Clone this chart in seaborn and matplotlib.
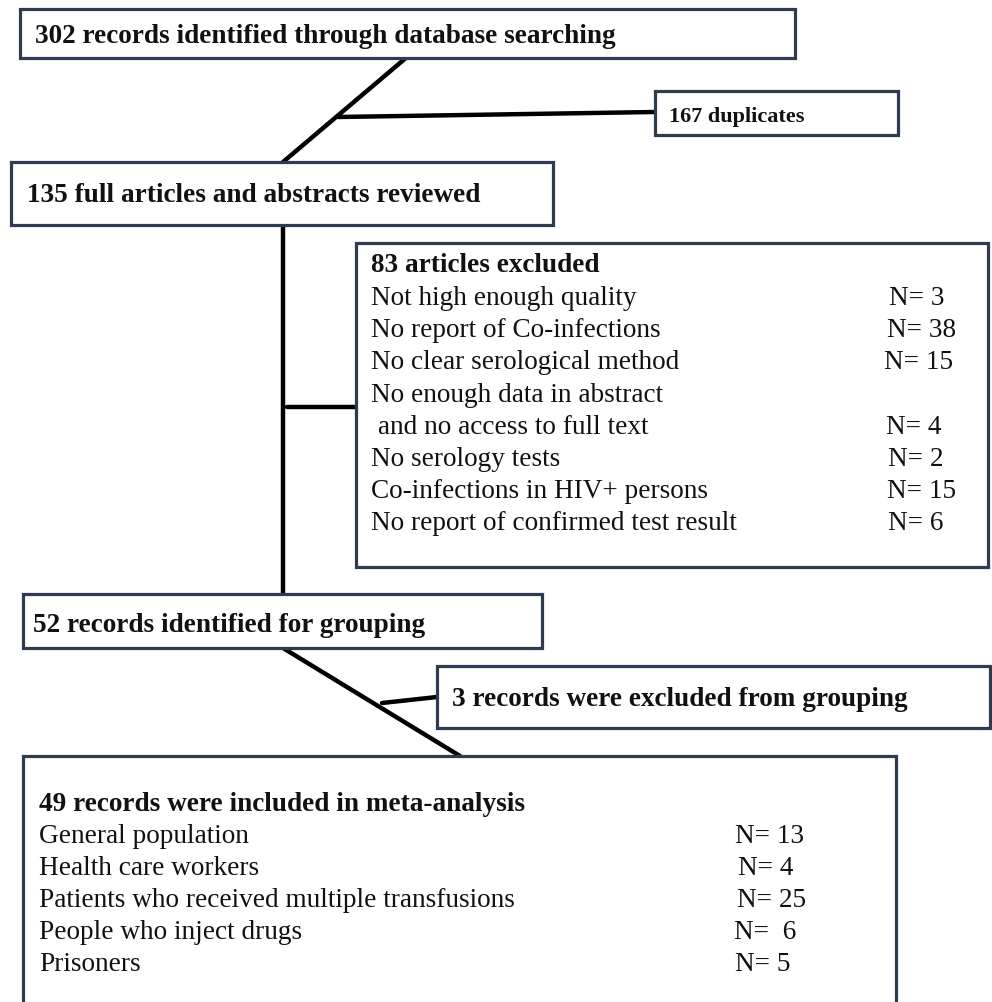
import matplotlib
matplotlib.use("Agg")
import matplotlib.pyplot as plt
from matplotlib.patches import Rectangle
import seaborn as sns
import pandas as pd

# ---- data ----
identified = 302
duplicates = 167
reviewed = 135
excluded_total = 83
exclusion_reasons = [
    "Not high enough quality",
    "No report of Co-infections",
    "No clear serological method",
    "No enough data in abstract",
    " and no access to full text",
    "No serology tests",
    "Co-infections in HIV+ persons",
    "No report of confirmed test result",
]
exclusion_counts = [3, 38, 15, None, 4, 2, 15, 6]
grouping = 52
excluded_grouping = 3
included = 49
groups = [
    "General population",
    "Health care workers",
    "Patients who received multiple transfusions",
    "People who inject drugs",
    "Prisoners",
]
group_counts = [13, 4, 25, 6, 5]

# ---- style ----
sns.set_theme(style="white")
plt.rcParams['font.family'] = ['Liberation Serif', 'DejaVu Serif']
BORDER = "#2f3c50"
TXT = "#111111"
FS = 19.6

fig = plt.figure(figsize=(9.92, 10.02), dpi=100)
ax = fig.add_axes([0, 0, 1, 1])
ax.set_xlim(0, 992)
ax.set_ylim(1002, 0)
ax.axis("off")


def box(x0, y0, x1, y1):
    ax.add_patch(Rectangle((x0, y0), x1 - x0, y1 - y0, facecolor="white",
                           edgecolor=BORDER, lw=2.3, zorder=2, clip_on=True))


def txt(x, y, s, bold=False, fs=FS):
    ax.text(x, y, s, fontsize=fs, fontweight="bold" if bold else "normal",
            color=TXT, va="baseline", ha="left", zorder=3)


def connector(xs, ys):
    sns.lineplot(x=xs, y=ys, sort=False, estimator=None, color="black",
                 lw=3.2, ax=ax, zorder=1, legend=False)


# connectors
connector([407, 283], [57, 162])
connector([338, 655], [117, 112])
connector([283, 283], [225, 595])
connector([287, 357], [407, 407])
connector([283, 460], [648, 756])
connector([382, 437], [703, 697])

# boxes
box(20, 9, 795, 58)
txt(35, 43, f"{identified} records identified through database searching", bold=True)

box(655, 91, 898, 135)
txt(669, 122, f"{duplicates} duplicates", bold=True, fs=16)

box(11, 162, 553, 225)
txt(27, 202, f"{reviewed} full articles and abstracts reviewed", bold=True)

box(356, 243, 988, 567)
txt(371, 272, f"{excluded_total} articles excluded", bold=True)
n_x = [889, 887, 884, 886, 886, 888, 887, 888]
for i, (r, c) in enumerate(zip(exclusion_reasons, exclusion_counts)):
    y = 305 + i * 32.2
    txt(371, y, r)
    if c is not None:
        txt(n_x[i], y, f"N= {c}")

box(23, 594, 542, 648)
txt(33, 632, f"{grouping} records identified for grouping", bold=True)

box(437, 666, 990, 728)
txt(452, 706, f"{excluded_grouping} records were excluded from grouping", bold=True)

box(23, 756, 896, 1040)
txt(39, 811, f"{included} records were included in meta-analysis", bold=True)
g_x = [735, 738, 737, 734, 735]
g_fmt = ["N= {}", "N= {}", "N= {}", "N=  {}", "N= {}"]
for i, (g, c) in enumerate(zip(groups, group_counts)):
    y = 843 + i * 32
    txt(39, y, g)
    txt(g_x[i], y, g_fmt[i].format(c))

fig.savefig("out.png", dpi=100, facecolor="white")
